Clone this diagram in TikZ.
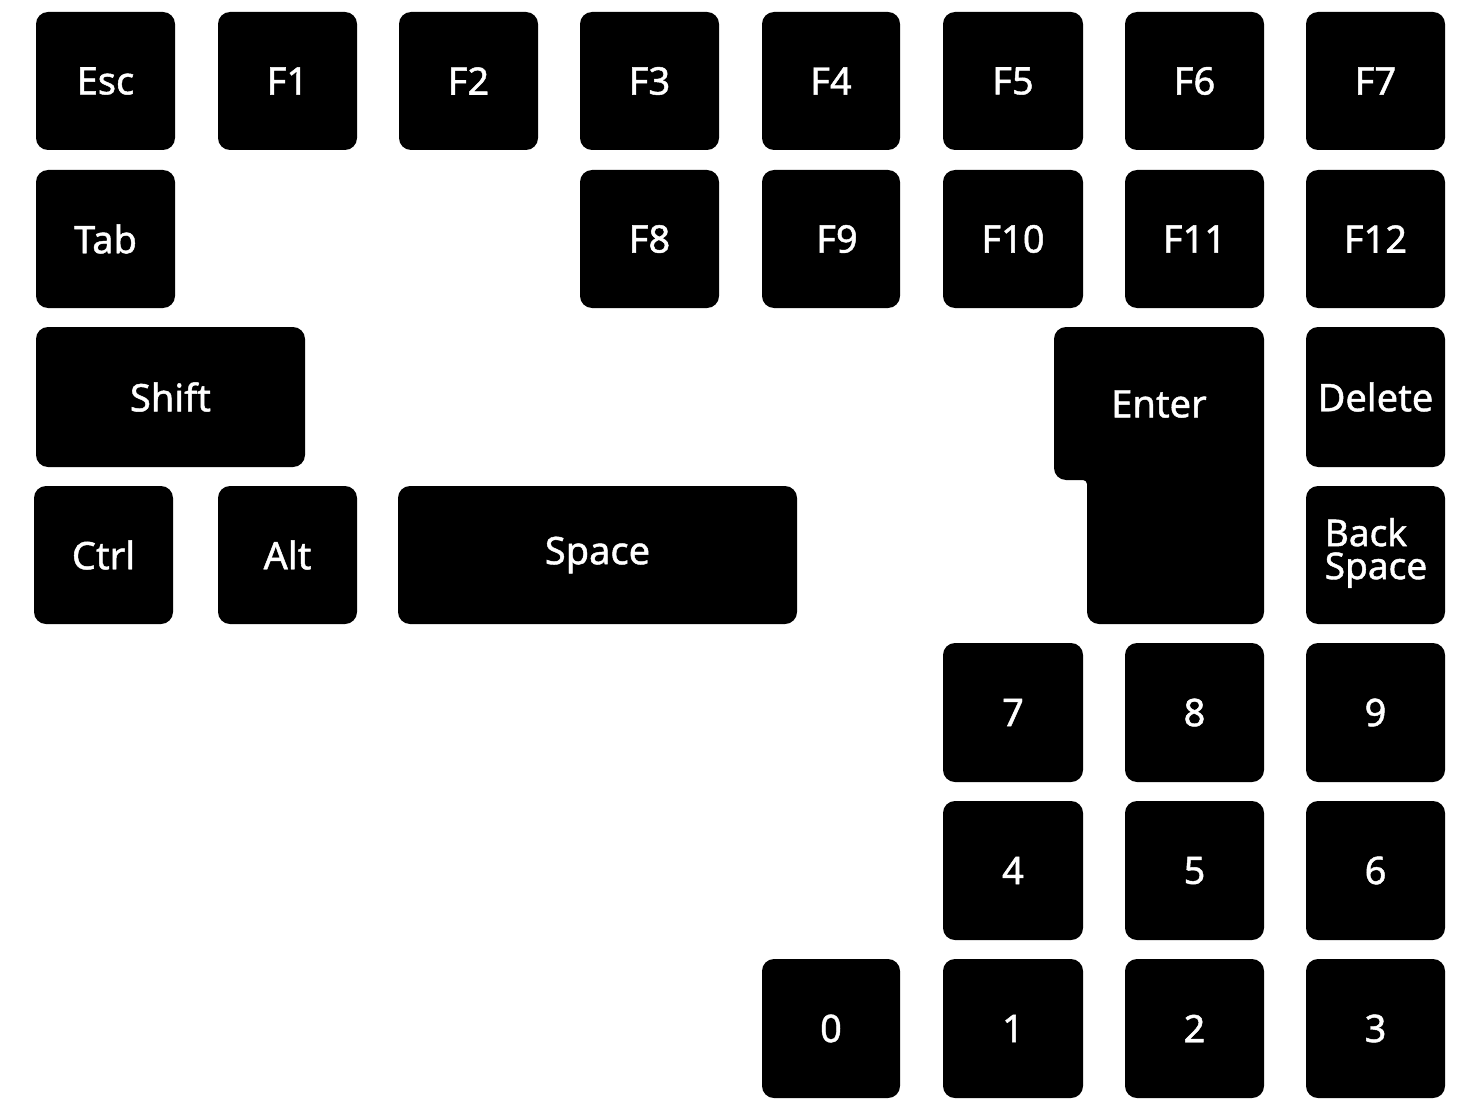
\documentclass[tikz,border=0pt]{standalone}
\usepackage{fontspec}
\setmainfont{Noto Sans}[FakeBold=1.2]
\tikzset{
  keybox/.style={fill=black, rounded corners=12pt, text=white, inner sep=0pt, font=\fontsize{38}{33}\selectfont},
  keylabel/.style={text=white, inner sep=0pt, font=\fontsize{38}{33}\selectfont}
}
\newcommand\keynode[6]{%
  \node[keybox, minimum width={#4-#2}, minimum height={#5-#3}] (#1) at ({(#2+#4)/2},{(#3+#5)/2}) {#6};}
\begin{document}
\begin{tikzpicture}[x=1pt,y=-1pt]
\useasboundingbox[fill=white] (0,0) rectangle (1480,1110);
% row 1
\keynode{esc}{36}{12}{175}{150}{Esc}
\keynode{f1}{218}{12}{357}{150}{F1}
\keynode{f2}{399}{12}{538}{150}{F2}
\keynode{f3}{580}{12}{719}{150}{F3}
\keynode{f4}{762}{12}{900}{150}{F4}
\keynode{f5}{943}{12}{1083}{150}{F5}
\keynode{f6}{1125}{12}{1264}{150}{F6}
\keynode{f7}{1306}{12}{1445}{150}{F7}
% row 2
\keynode{tab}{36}{170}{175}{308}{Tab}
\keynode{f8}{580}{170}{719}{308}{F8}
\keynode{f9}{762}{170}{900}{308}{\hspace*{12pt}F9}
\keynode{f10}{943}{170}{1083}{308}{F10}
\keynode{f11}{1125}{170}{1264}{308}{F11}
\keynode{f12}{1306}{170}{1445}{308}{F12}
% row 3
\keynode{shift}{36}{327}{305}{467}{Shift}
\fill[rounded corners=12pt] (1054,327) -- (1264,327) -- (1264,624) -- (1087,624)
  [rounded corners=4pt] -- (1087,480) [rounded corners=12pt] -- (1054,480) -- cycle;
\node[keylabel] (enter) at (1159,404) {Enter};
\keynode{delete}{1306}{327}{1445}{467}{Delete}
% row 4
\keynode{ctrl}{34}{486}{173}{624}{Ctrl}
\keynode{alt}{218}{486}{357}{624}{Alt}
\keynode{space}{398}{486}{797}{624}{\raisebox{4pt}{Space}}
\keynode{backspace}{1306}{486}{1445}{624}{}
\node[keylabel, align=left, font=\fontsize{37}{33}\selectfont] (bslabel) at (1376,553) {Back\\Space};
% numpad
\keynode{k7}{943}{643}{1083}{782}{7}
\keynode{k8}{1125}{643}{1264}{782}{8}
\keynode{k9}{1306}{643}{1445}{782}{9}
\keynode{k4}{943}{801}{1083}{940}{4}
\keynode{k5}{1125}{801}{1264}{940}{5}
\keynode{k6}{1306}{801}{1445}{940}{6}
\keynode{k0}{762}{959}{900}{1098}{0}
\keynode{k1}{943}{959}{1083}{1098}{1}
\keynode{k2}{1125}{959}{1264}{1098}{2}
\keynode{k3}{1306}{959}{1445}{1098}{3}
\end{tikzpicture}
\end{document}
